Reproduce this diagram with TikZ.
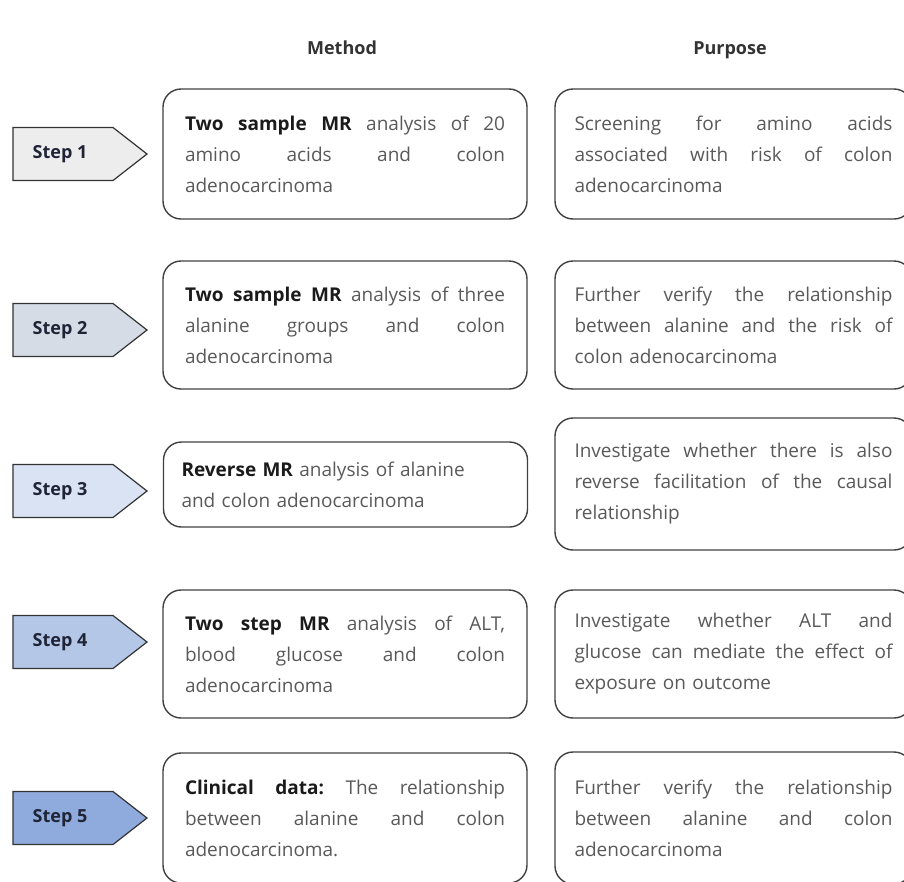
\documentclass[tikz,border=0pt]{standalone}
\usepackage{fontspec}
\setmainfont{Open Sans}
\definecolor{bordc}{HTML}{404040}
\definecolor{txt}{HTML}{595959}
\definecolor{boldc}{HTML}{1A1A1A}
\definecolor{hdr}{HTML}{333333}
\definecolor{stepline}{HTML}{333333}
\definecolor{stepc}{HTML}{1F2436}
\definecolor{cA}{HTML}{EDEDED}
\definecolor{cB}{HTML}{D6DCE5}
\definecolor{cC}{HTML}{DAE3F3}
\definecolor{cD}{HTML}{B4C7E7}
\definecolor{cE}{HTML}{8FAADC}
\newlength\mwid \setlength\mwid{320pt}
\newlength\pwid \setlength\pwid{318pt}
\newcommand\jm[1]{{\frenchspacing\spaceskip=0.28em plus 1fil\xspaceskip=0pt\makebox[\mwid][s]{#1}}}
\newcommand\jp[1]{{\frenchspacing\spaceskip=0.28em plus 1fil\xspaceskip=0pt\makebox[\pwid][s]{#1}}}
\newcommand\bt[1]{\textbf{\color{boldc}#1}}
\newcommand\stepitem[4]{%
  \draw[stepshape, fill=#3] (13,#2-26.5) -- (113,#2-26.5) -- (147,#2) -- (113,#2+26.5) -- (13,#2+26.5) -- cycle;
  \node[steplabel] (#1) at (60,#2) {#4};}
\tikzset{
  stepshape/.style={draw=stepline, line width=1.2pt, line join=miter},
  steplabel/.style={font=\bfseries\fontsize{18}{20}\selectfont, text=stepc, inner sep=0pt},
  mbox/.style={draw=bordc, line width=1.4pt, rounded corners=18pt, minimum width=364pt,
    text width=320pt, align=left, inner sep=0pt, font=\fontsize{19}{31}\selectfont, text=txt},
  pbox/.style={mbox, minimum width=357pt, text width=318pt},
  header/.style={font=\bfseries\fontsize{18}{20}\selectfont, text=hdr, inner sep=0pt, anchor=base}
}
\begin{document}
\begin{tikzpicture}[x=1pt,y=-1pt]
\useasboundingbox (0,0) rectangle (904,881);
\clip (0,0) rectangle (904,881);
\node[header] (hm) at (342,54) {Method};
\node[header] (hp) at (730,54) {Purpose};

\stepitem{s1}{154}{cA}{Step 1}
\stepitem{s2}{330}{cB}{Step 2}
\stepitem{s3}{491}{cC}{Step 3}
\stepitem{s4}{642}{cD}{Step 4}
\stepitem{s5}{818}{cE}{Step 5}

\node[mbox, minimum height=130pt] (m1) at (345,154)
  {\jm{\bt{Two sample MR} analysis of 20}\\\jm{amino acids and colon}\\adenocarcinoma};
\node[mbox, minimum height=128pt] (m2) at (345,325)
  {\jm{\bt{Two sample MR} analysis of three}\\\jm{alanine groups and colon}\\adenocarcinoma};
\node[mbox, minimum height=85pt, text width=328pt] (m3) at (345.5,484.5)
  {\bt{Reverse MR} analysis of alanine\\and colon adenocarcinoma};
\node[mbox, minimum height=128pt] (m4) at (345,654)
  {\jm{\bt{Two step MR} analysis of ALT,}\\\jm{blood glucose and colon}\\adenocarcinoma};
\node[mbox, minimum height=130pt] (m5) at (345,818)
  {\jm{\bt{Clinical data:} The relationship}\\\jm{between alanine and colon}\\adenocarcinoma.};

\node[pbox, minimum height=130pt] (p1) at (733.5,154)
  {\jp{Screening for amino acids}\\\jp{associated with risk of colon}\\adenocarcinoma};
\node[pbox, minimum height=128pt] (p2) at (733.5,325)
  {\jp{Further verify the relationship}\\\jp{between alanine and the risk of}\\colon adenocarcinoma};
\node[pbox, minimum height=132pt] (p3) at (733.5,484)
  {\jp{Investigate whether there is also}\\\jp{reverse facilitation of the causal}\\relationship};
\node[pbox, minimum height=128pt] (p4) at (733.5,654)
  {\jp{Investigate whether ALT and}\\\jp{glucose can mediate the effect of}\\exposure on outcome};
\node[pbox, minimum height=132pt] (p5) at (733.5,818)
  {\jp{Further verify the relationship}\\\jp{between alanine and colon}\\adenocarcinoma};
\end{tikzpicture}
\end{document}
